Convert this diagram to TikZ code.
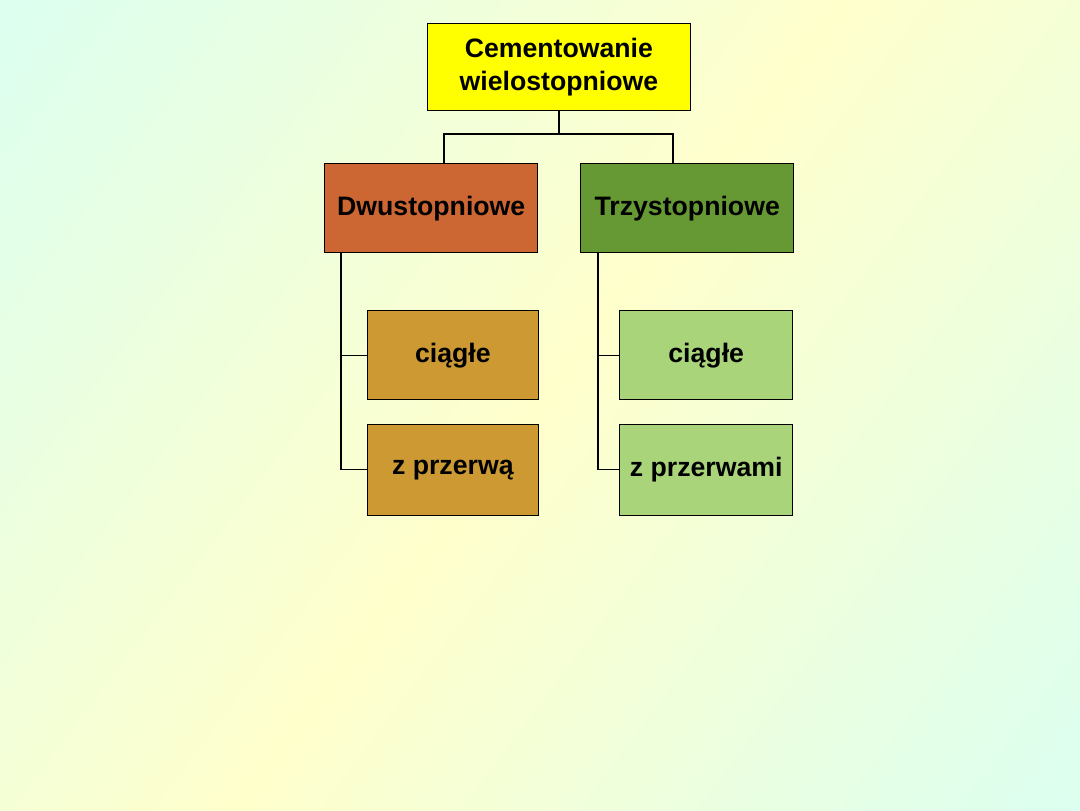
\documentclass[tikz,border=0pt]{standalone}
\usepackage{fontspec}
\setmainfont{Liberation Sans}
\usetikzlibrary{positioning}
\definecolor{bgcyan}{HTML}{CCFFFF}
\definecolor{bgyellow}{HTML}{FFFFCC}
\definecolor{topyellow}{HTML}{FFFF00}
\definecolor{dwuorange}{HTML}{CC6633}
\definecolor{trzygreen}{HTML}{669933}
\definecolor{subochre}{HTML}{CC9933}
\definecolor{sublgreen}{HTML}{A9D47A}
\pgfdeclarehorizontalshading{slidebg}{100bp}{color(0bp)=(bgcyan); color(50bp)=(bgyellow); color(100bp)=(bgcyan)}
\tikzset{
  box/.style={draw=black, line width=0.8pt, inner sep=0pt, anchor=north west,
    font=\fontsize{20}{25}\selectfont\bfseries, align=center},
  link/.style={line width=0.8pt, draw=black}
}
\begin{document}
\begin{tikzpicture}[x=0.75pt, y=-0.75pt]
	% Background
	\shade[shading=slidebg, shading angle=-37] (0,0) rectangle (1080,810);
	\useasboundingbox (0,0) rectangle (1080,810);

	% Boxes
	\node[box, fill=topyellow, minimum width=197pt, minimum height=65pt] (root) at (427,23) {Cementowanie\\wielostopniowe};
	\node[box, fill=dwuorange, minimum width=160pt, minimum height=67pt] (dwu) at (324,163) {Dwustopniowe};
	\node[box, fill=trzygreen, minimum width=160pt, minimum height=67pt] (trzy) at (580,163) {Trzystopniowe};
	\node[box, fill=subochre, minimum width=128pt, minimum height=67pt] (dciag) at (367,310) {ciągłe};
	\node[box, fill=subochre, minimum width=128pt, minimum height=68pt] (dprz) at (367,424) {z przerwą};
	\node[box, fill=sublgreen, minimum width=130pt, minimum height=67pt] (tciag) at (619,310) {ciągłe};
	\node[box, fill=sublgreen, minimum width=130pt, minimum height=68pt] (tprz) at (619,424) {z przerwami};

	%% Connectors
	\coordinate (jn) at (559,134);
	\draw[link] (root.south -| jn) -- (jn);
	\draw[link] (dwu.north -| 444,0) |- (jn) -| (trzy.north -| 673,0);
	\draw[link] (dwu.south -| 341,0) |- (dprz.west);
	\draw[link] (dciag.west) -- (dciag.west -| 341,0);
	\draw[link] (trzy.south -| 598,0) |- (tprz.west);
	\draw[link] (tciag.west) -- (tciag.west -| 598,0);
\end{tikzpicture}
\end{document}
